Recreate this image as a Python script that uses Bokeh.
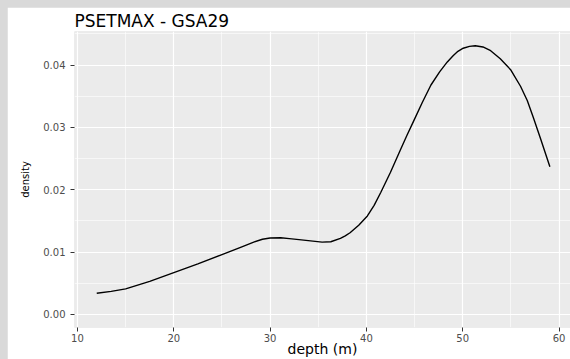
from bokeh.plotting import figure
from bokeh.models import FixedTicker, Range1d, NumeralTickFormatter
from bokeh.layouts import column
from bokeh.embed import file_html
from bokeh.resources import INLINE

# ---- data ----
depth = [12.0, 13.5, 15.0, 17.5, 20.0, 22.5, 25.0, 27.0, 28.3, 29.2, 30.0, 31.1,
         32.0, 33.0, 34.2, 35.4, 36.3, 37.3, 37.8, 38.3, 39.2, 40.1, 40.8, 41.5,
         42.5, 43.5, 44.2, 44.9, 45.8, 46.7, 47.6, 48.4, 49.0, 49.5, 50.05, 50.7,
         51.3, 52.1, 52.9, 53.9, 55.0, 56.0, 56.7, 57.33, 58.1, 59.05]
density = [0.0034, 0.0037, 0.0041, 0.0053, 0.0067, 0.0081, 0.0096, 0.0108, 0.0116,
           0.01205, 0.01225, 0.0123, 0.01215, 0.0120, 0.0118, 0.0116, 0.01165, 0.0122,
           0.0126, 0.0131, 0.0143, 0.0158, 0.0175, 0.0196, 0.0228, 0.0263, 0.0287,
           0.0310, 0.0340, 0.0368, 0.0389, 0.0405, 0.0415, 0.0422, 0.0427, 0.0430,
           0.0431, 0.0429, 0.0423, 0.0410, 0.0392, 0.0366, 0.0343, 0.0316, 0.0281,
           0.0237]

x_ticks = [10, 20, 30, 40, 50, 60]
x_minor = [15, 25, 35, 45, 55]
y_ticks = [0.0, 0.01, 0.02, 0.03, 0.04]
y_minor = [0.005, 0.015, 0.025, 0.035, 0.045]

title_text = "PSETMAX - GSA29"
x_title = "depth (m)"
y_title = "density"

FONT = "DejaVu Sans"

p = figure(width=563, height=352, output_backend="svg", toolbar_location=None,
           x_range=Range1d(9.69, 61.19), y_range=Range1d(-0.0021, 0.04538),
           min_border_left=67, min_border_right=0, min_border_top=22,
           min_border_bottom=29, title=title_text)
p.margin = (7, 0, 0, 7)

p.background_fill_color = "#ebebeb"
p.border_fill_color = "white"
p.outline_line_color = None

# title
p.title.text_font = FONT
p.title.text_font_size = "17px"
p.title.text_font_style = "normal"
p.title.text_color = "black"
p.title.align = "left"
p.title.standoff = 2

# axes
p.xaxis.ticker = FixedTicker(ticks=x_ticks, minor_ticks=x_minor)
p.yaxis.ticker = FixedTicker(ticks=y_ticks, minor_ticks=y_minor)
p.yaxis.formatter = NumeralTickFormatter(format="0.00")
p.xaxis.axis_label = x_title
p.yaxis.axis_label = y_title

for ax in (p.xaxis, p.yaxis):
    ax.axis_line_color = None
    ax.major_tick_line_color = "#333333"
    ax.major_tick_line_width = 1
    ax.major_tick_out = 4
    ax.major_tick_in = 0
    ax.minor_tick_line_color = None
    ax.major_label_text_font = FONT
    ax.major_label_text_font_size = "10px"
    ax.major_label_text_color = "#4d4d4d"
    ax.axis_label_text_font = FONT
    ax.axis_label_text_font_style = "normal"
    ax.axis_label_text_color = "black"

p.xaxis.major_label_standoff = 2
p.xaxis.axis_label_text_font_size = "14px"
p.xaxis.axis_label_standoff = -4
p.yaxis.major_label_standoff = 5
p.yaxis.axis_label_text_font_size = "10px"
p.yaxis.axis_label_standoff = 9

# grid
for g in (p.xgrid, p.ygrid):
    g.grid_line_color = "white"
    g.grid_line_width = 1.2
    g.minor_grid_line_color = "white"
    g.minor_grid_line_width = 0.6

p.line(depth, density, line_color="black", line_width=1.4, line_join="round")

layout = column(p, styles={"background-color": "#d9d9d9"})

open("out.html", "w").write(file_html(layout, INLINE))
